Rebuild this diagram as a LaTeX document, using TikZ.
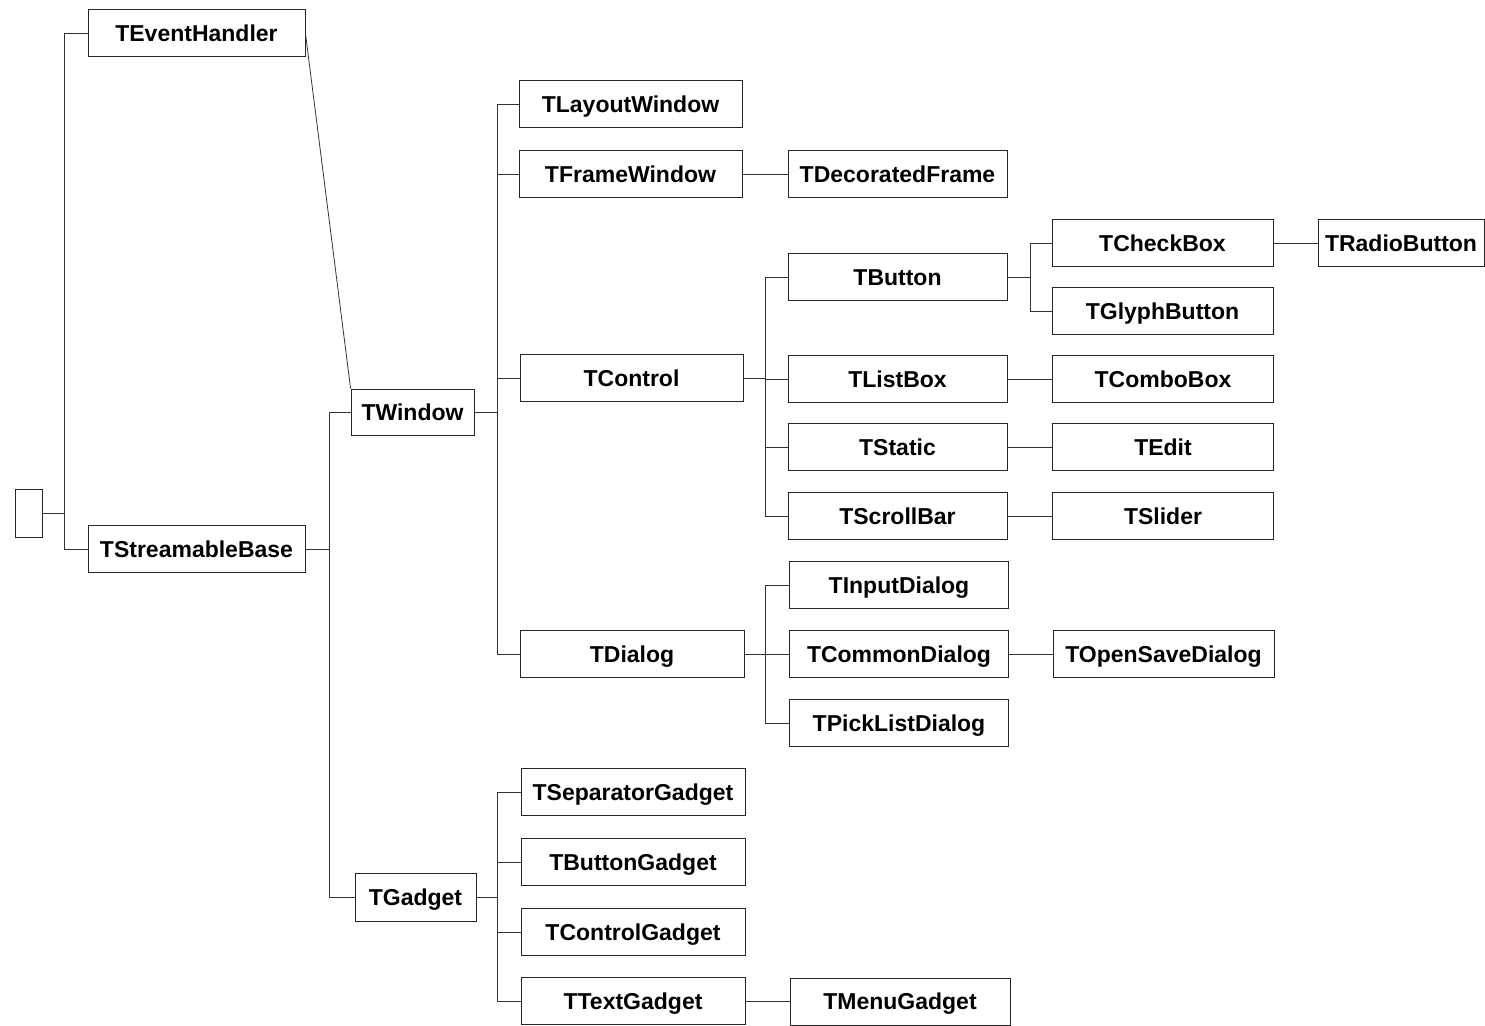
\documentclass[tikz,border=0pt]{standalone}
\usepackage{fontspec}
\setmainfont{Liberation Sans}
\begin{document}
\begin{tikzpicture}[x=1pt,y=-1pt,
  cls/.style={draw=black!85, line width=0.8pt, inner sep=0pt,
    minimum height=47, text=black, text height=16.5pt, text depth=0pt,
    font=\fontsize{23}{27}\selectfont\bfseries},
  link/.style={draw=black!80, line width=0.8pt}]
\useasboundingbox (0,0) rectangle (1485,1025);

% root and first level
\node[cls, minimum width=27, minimum height=48] (root) at (28.5,513) {};
\node[cls, minimum width=217] (evh) at (196.5,33) {TEventHandler};
\node[cls, minimum width=217] (stb) at (196.5,549) {TStreamableBase};

% second level
\node[cls, minimum width=123, minimum height=46] (win) at (412.5,412) {TWindow};
\node[cls, minimum width=121, minimum height=48] (gad) at (415.5,897) {TGadget};

% window descendants
\node[cls, minimum width=223] (lay) at (630.5,104) {TLayoutWindow};
\node[cls, minimum width=223] (frm) at (630.5,174) {TFrameWindow};
\node[cls, minimum width=223] (ctl) at (631.5,378) {TControl};
\node[cls, minimum width=224] (dlg) at (632,654) {TDialog};

% gadget descendants
\node[cls, minimum width=224] (sep) at (633,792) {TSeparatorGadget};
\node[cls, minimum width=224] (bgd) at (633,862) {TButtonGadget};
\node[cls, minimum width=224] (cgd) at (633,932) {TControlGadget};
\node[cls, minimum width=224] (tgd) at (633,1001) {TTextGadget};

% fourth column
\node[cls, minimum width=219] (dec) at (897.5,174) {TDecoratedFrame};
\node[cls, minimum width=219] (btn) at (897.5,277) {TButton};
\node[cls, minimum width=219] (lst) at (897.5,379) {TListBox};
\node[cls, minimum width=219] (sta) at (897.5,447) {TStatic};
\node[cls, minimum width=219] (scr) at (897.5,516) {TScrollBar};
\node[cls, minimum width=219] (inp) at (899,585) {TInputDialog};
\node[cls, minimum width=219] (cmd) at (899,654) {TCommonDialog};
\node[cls, minimum width=219] (pck) at (899,723) {TPickListDialog};
\node[cls, minimum width=220] (mnu) at (900,1001.5) {TMenuGadget};

% fifth column
\node[cls, minimum width=221] (chk) at (1162.5,243) {TCheckBox};
\node[cls, minimum width=221] (gly) at (1162.5,311) {TGlyphButton};
\node[cls, minimum width=221] (cmb) at (1163,379) {TComboBox};
\node[cls, minimum width=221] (edt) at (1163,447) {TEdit};
\node[cls, minimum width=221] (sld) at (1163,516) {TSlider};
\node[cls, minimum width=221] (osd) at (1163.5,654) {TOpenSaveDialog};

% sixth column
\node[cls, minimum width=166] (rad) at (1401,243) {TRadioButton};

% bus positions
\coordinate (b0) at (64,0);
\coordinate (b1) at (329,0);
\coordinate (b2) at (497,0);
\coordinate (b3) at (765,0);
\coordinate (b4) at (1030,0);

% root bus
\draw[link] (evh.west) -- (evh.west -| b0) -- (stb.west -| b0) -- (stb.west);
\draw[link] (root.east) -- (root.east -| b0);

% TStreamableBase bus
\draw[link] (win.west) -- (win.west -| b1) -- (gad.west -| b1) -- (gad.west);
\draw[link] (stb.east) -- (stb.east -| b1);

% TEventHandler to TWindow
\draw[link] (evh.east) -- (win.north west);

% TWindow bus
\draw[link] (lay.west) -- (lay.west -| b2) -- (dlg.west -| b2) -- (dlg.west);
\draw[link] (frm.west) -- (frm.west -| b2);
\draw[link] (ctl.west) -- (ctl.west -| b2);
\draw[link] (win.east) -- (win.east -| b2);

% TGadget bus
\draw[link] (sep.west) -- (sep.west -| b2) -- (tgd.west -| b2) -- (tgd.west);
\draw[link] (bgd.west) -- (bgd.west -| b2);
\draw[link] (cgd.west) -- (cgd.west -| b2);
\draw[link] (gad.east) -- (gad.east -| b2);

% TControl bus
\draw[link] (btn.west) -- (btn.west -| b3) -- (scr.west -| b3) -- (scr.west);
\draw[link] (lst.west) -- (lst.west -| b3);
\draw[link] (sta.west) -- (sta.west -| b3);
\draw[link] (ctl.east) -- (ctl.east -| b3);

% TDialog bus
\draw[link] (inp.west) -- (inp.west -| b3) -- (pck.west -| b3) -- (pck.west);
\draw[link] (cmd.west) -- (cmd.west -| b3);
\draw[link] (dlg.east) -- (dlg.east -| b3);

% TButton bus
\draw[link] (chk.west) -- (chk.west -| b4) -- (gly.west -| b4) -- (gly.west);
\draw[link] (btn.east) -- (btn.east -| b4);

% single-child links
\draw[link] (frm.east) -- (frm.east -| dec.west);
\draw[link] (chk.east) -- (chk.east -| rad.west);
\draw[link] (lst.east) -- (lst.east -| cmb.west);
\draw[link] (sta.east) -- (sta.east -| edt.west);
\draw[link] (scr.east) -- (scr.east -| sld.west);
\draw[link] (cmd.east) -- (cmd.east -| osd.west);
\draw[link] (tgd.east) -- (tgd.east -| mnu.west);
\end{tikzpicture}
\end{document}
